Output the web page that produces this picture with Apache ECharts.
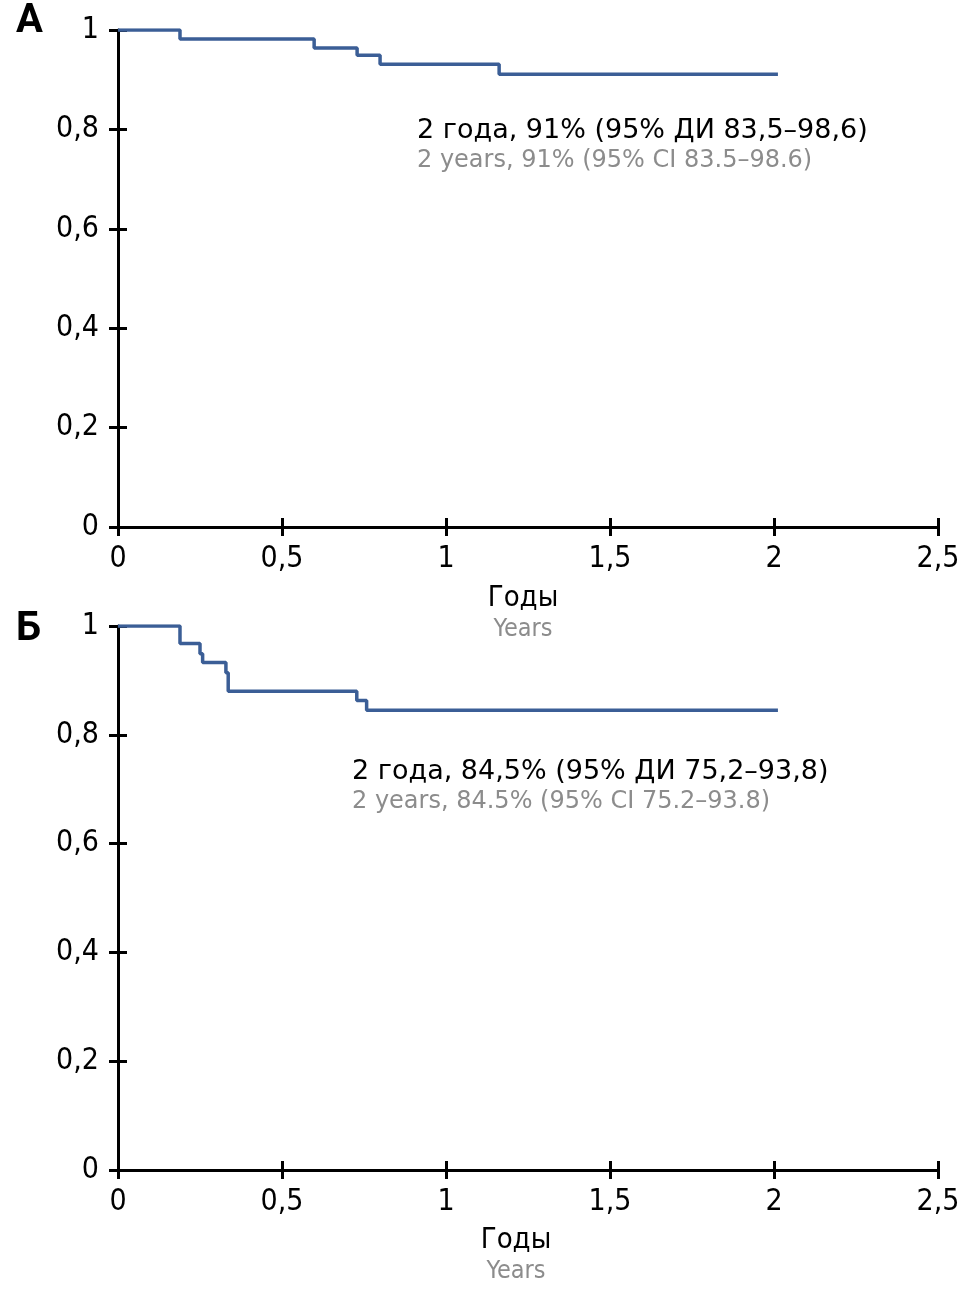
<!DOCTYPE html>
<html><head><meta charset="utf-8">
<script src="https://cdn.jsdelivr.net/npm/echarts@6/dist/echarts.min.js"></script>
<style>html,body{margin:0;padding:0;background:#fff}#c{width:970px;height:1295px}</style>
</head><body><div id="c"></div>
<script>
const xTicks = [0, 0.5, 1, 1.5, 2, 2.5];
const yTicks = [0, 0.2, 0.4, 0.6, 0.8, 1];
const panelLetters = ['А', 'Б'];
const xTitleRu = 'Годы';
const xTitleEn = 'Years';
const notesRu = ['2 года, 91% (95% ДИ 83,5–98,6)', '2 года, 84,5% (95% ДИ 75,2–93,8)'];
const notesEn = ['2 years, 91% (95% CI 83.5–98.6)', '2 years, 84.5% (95% CI 75.2–93.8)'];
const timesA = [0, 0.189, 0.598, 0.729, 0.799, 1.162, 2.012];
const survA  = [1, 0.982, 0.964, 0.949, 0.931, 0.911, 0.911];
const timesB = [0, 0.189, 0.250, 0.258, 0.329, 0.336, 0.728, 0.758, 2.012];
const survB  = [1, 0.968, 0.949, 0.933, 0.914, 0.880, 0.863, 0.845, 0.845];

const FONT = '"DejaVu Sans Condensed","Liberation Sans Narrow",sans-serif';
const TXT = '"DejaVu Sans", sans-serif';
const lineColor = '#3b5e96';
const grids = [
  {left: 118, right: 32, top: 30, height: 497},
  {left: 118, right: 32, top: 626, height: 544}
];
const fmt = v => String(v).replace('.', ',');
const xAxes = [], yAxes = [];
grids.forEach((g, i) => {
  xAxes.push({gridIndex: i, type: 'value', min: 0, max: 2.5, interval: 0.5,
    axisLine: {lineStyle: {color: '#000', width: 3}},
    axisTick: {length: 9, lineStyle: {color: '#000', width: 3}},
    axisLabel: {color: '#000', fontFamily: FONT, fontSize: 30, margin: 17, formatter: fmt, showMinLabel: true, showMaxLabel: true},
    splitLine: {show: false}});
  xAxes.push({gridIndex: i, type: 'value', min: 0, max: 2.5, interval: 0.5, position: 'bottom',
    axisLine: {show: false},
    axisTick: {inside: true, length: 9, lineStyle: {color: '#000', width: 3}},
    axisLabel: {show: false}, splitLine: {show: false}});
  yAxes.push({gridIndex: i, type: 'value', min: 0, max: 1, interval: 0.2,
    axisLine: {show: true, lineStyle: {color: '#000', width: 3}},
    axisTick: {show: true, length: 9, lineStyle: {color: '#000', width: 3}},
    axisLabel: {color: '#000', fontFamily: FONT, fontSize: 30, margin: 19, formatter: fmt},
    splitLine: {show: false}});
  yAxes.push({gridIndex: i, type: 'value', min: 0, max: 1, interval: 0.2, position: 'left',
    axisLine: {show: false},
    axisTick: {show: true, inside: true, length: 9, lineStyle: {color: '#000', width: 3}},
    axisLabel: {show: false}, splitLine: {show: false}});
});
const mk = (t, s) => t.map((x, k) => [x, s[k]]);
const series = [mk(timesA, survA), mk(timesB, survB)].map((d, i) => ({
  type: 'line', xAxisIndex: i * 2, yAxisIndex: i * 2, data: d, step: 'end',
  showSymbol: false, symbol: 'none', lineStyle: {color: lineColor, width: 3.5}, z: 1
}));
const graphic = [];
const noteX = [417, 352], noteY = [131, 772];
const titleX = [523, 516], titleY = [598, 1240];
const letterY = [22, 630];
for (let i = 0; i < 2; i++) {
  graphic.push({type: 'text', left: 16, top: letterY[i] - 20, style: {text: panelLetters[i], font: 'bold 40px Roboto, sans-serif', fill: '#000'}});
  graphic.push({type: 'text', x: noteX[i], y: noteY[i], style: {text: notesRu[i], font: '27px ' + TXT, fill: '#000', textVerticalAlign: 'middle'}});
  graphic.push({type: 'text', x: noteX[i], y: noteY[i] + 30, style: {text: notesEn[i], font: '24px ' + TXT, fill: '#8c8c8c', textVerticalAlign: 'middle'}});
  graphic.push({type: 'text', x: titleX[i], y: titleY[i], style: {text: xTitleRu, font: '29px ' + FONT, fill: '#000', textAlign: 'center', textVerticalAlign: 'middle'}});
  graphic.push({type: 'text', x: titleX[i], y: titleY[i] + 31, style: {text: xTitleEn, font: '25px ' + FONT, fill: '#8c8c8c', textAlign: 'center', textVerticalAlign: 'middle'}});
}
const chart = echarts.init(document.getElementById('c'));
chart.setOption({animation: false, grid: grids, xAxis: xAxes, yAxis: yAxes, series, graphic});
</script></body></html>
